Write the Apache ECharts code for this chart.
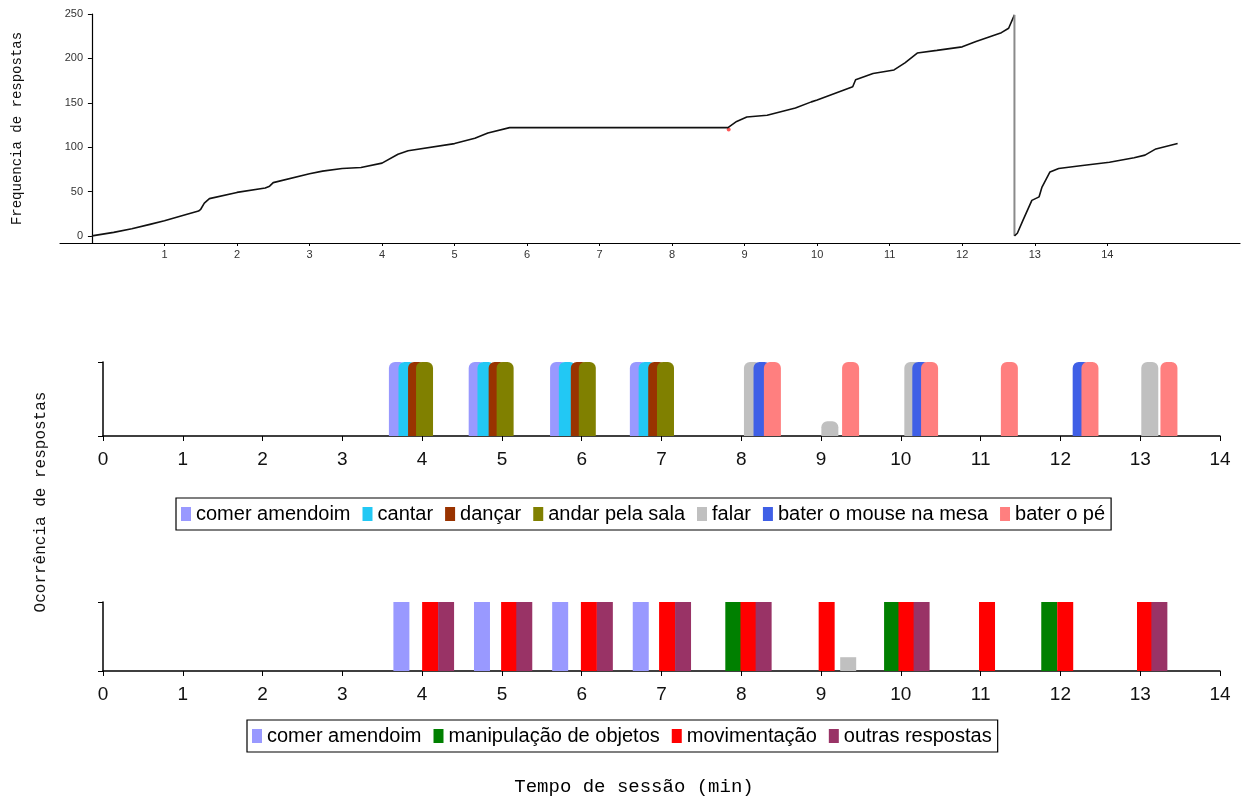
<!DOCTYPE html>
<html>
<head>
<meta charset="utf-8">
<script src="https://cdn.jsdelivr.net/npm/echarts@6/dist/echarts.min.js"></script>
<style>
  html, body { margin: 0; padding: 0; background: #fff; }
  #chart { width: 1242px; height: 803px; }
</style>
</head>
<body>
<div id="chart"></div>
<script>
// Cumulative responses, first part of the session: [minute, count]
const cumulativeFirst = [
  [0, 0], [0.3, 4], [0.55, 8], [0.8, 13], [1, 17], [1.3, 24], [1.47, 28], [1.5, 30],
  [1.55, 37], [1.62, 42], [2, 49], [2.39, 54], [2.45, 56], [2.5, 60], [3, 70],
  [3.18, 73], [3.45, 76], [3.71, 77], [4, 82], [4.22, 92], [4.36, 96], [5, 104],
  [5.28, 110], [5.46, 116], [5.76, 122], [8.77, 122], [8.89, 129], [9.03, 134],
  [9.31, 136], [9.7, 144], [9.92, 151], [10, 153], [10.49, 168], [10.53, 176],
  [10.77, 183], [11.06, 187], [11.21, 195], [11.38, 206], [11.65, 209], [12, 213],
  [12.19, 219], [12.54, 229], [12.64, 234], [12.72, 249]
];
// Cumulative responses after the counter restarts
const cumulativeSecond = [
  [12.72, 0], [12.76, 3], [12.84, 18], [12.96, 40], [13.06, 44], [13.1, 55],
  [13.21, 72], [13.33, 76], [13.63, 79], [14.03, 83], [14.37, 88], [14.52, 91],
  [14.67, 98], [14.97, 104]
];
// Single marked point where responding resumes
const resumeMark = [[8.78, 120]];

const freqTicksX = [1, 2, 3, 4, 5, 6, 7, 8, 9, 10, 11, 12, 13, 14];
const freqTicksY = [0, 50, 100, 150, 200, 250];

// Occurrence of responses, detailed categories: [minute, occurrence]
const detailNames = ['comer amendoim', 'cantar', 'dançar', 'andar pela sala', 'falar', 'bater o mouse na mesa', 'bater o pé'];
const comerAmendoim = [[3.69, 1], [4.69, 1], [5.71, 1], [6.71, 1]];
const cantar = [[3.81, 1], [4.80, 1], [5.82, 1], [6.82, 1]];
const dancar = [[3.93, 1], [4.94, 1], [5.97, 1], [6.94, 1]];
const andarPelaSala = [[4.03, 1], [5.04, 1], [6.07, 1], [7.05, 1]];
const falar = [[8.14, 1], [9.11, 0.2], [10.15, 1], [13.12, 1]];
const baterMouse = [[8.26, 1], [10.25, 1], [12.26, 1]];
const baterPe = [[8.39, 1], [9.37, 1], [10.36, 1], [11.36, 1], [12.37, 1], [13.36, 1]];

// Occurrence of responses, grouped categories: [minute, occurrence]
const groupNames = ['comer amendoim', 'manipulação de objetos', 'movimentação', 'outras respostas'];
const comerAmendoimG = [[3.74, 1], [4.75, 1], [5.73, 1], [6.74, 1]];
const manipulacao = [[7.90, 1], [9.89, 1], [11.86, 1]];
const movimentacao = [[4.10, 1], [5.09, 1], [6.09, 1], [7.07, 1], [8.09, 1], [9.07, 1], [10.07, 1], [11.08, 1], [12.06, 1], [13.06, 1]];
const outrasRespostas = [[4.30, 1], [5.28, 1], [6.29, 1], [7.27, 1], [8.28, 1], [10.26, 1], [13.24, 1]];
const falarG = [[9.34, 0.2]];

const COLORS = {
  'comer amendoim': '#9999ff',
  'cantar': '#22c8f4',
  'dançar': '#993300',
  'andar pela sala': '#808000',
  'falar': '#c0c0c0',
  'bater o mouse na mesa': '#3f5fe6',
  'bater o pé': '#ff7f7f',
  'manipulação de objetos': '#008000',
  'movimentação': '#ff0000',
  'outras respostas': '#993366'
};

const sans = "'Liberation Sans', Arial, sans-serif";
const mono = "'Liberation Mono', 'DejaVu Sans Mono', monospace";

function panelAxes(gridIndex) {
  return {
    x: {
      type: 'value', gridIndex, min: 0, max: 14, interval: 1,
      axisLine: { onZero: false, lineStyle: { color: '#000', width: 1.5 } },
      axisTick: { length: 5, lineStyle: { color: '#000' } },
      axisLabel: { fontFamily: sans, fontSize: 19, color: '#111', margin: 14 },
      splitLine: { show: false }
    },
    y: {
      type: 'value', gridIndex, min: 0, max: 1, interval: 1,
      axisLine: { show: true, lineStyle: { color: '#000', width: 1.5 } },
      axisTick: { show: true, length: 5, lineStyle: { color: '#000' } },
      axisLabel: { show: false },
      splitLine: { show: false }
    }
  };
}

function barSeries(name, data, axisIndex, rounded) {
  return {
    type: 'bar', name, data,
    xAxisIndex: axisIndex, yAxisIndex: axisIndex,
    barWidth: rounded ? 17 : 16, barGap: '-100%',
    itemStyle: { color: COLORS[name], borderRadius: rounded ? [6, 6, 0, 0] : 0 },
    emphasis: { disabled: true },
    animation: false
  };
}

function legendBox(names, left, top, gap) {
  return {
    data: names, left, top, orient: 'horizontal',
    borderColor: '#000', borderWidth: 1.2, padding: [6, 6, 6, 5],
    itemWidth: 10, itemHeight: 14, itemGap: gap, icon: 'rect', selectedMode: false,
    textStyle: { fontFamily: sans, fontSize: 20, color: '#000' }
  };
}

const mid = panelAxes(1);
const bot = panelAxes(2);

const option = {
  animation: false,
  backgroundColor: '#fff',
  grid: [
    { left: 60, right: 2, top: 14, bottom: 560, outerBoundsMode: 'none' },
    { left: 103, right: 22, top: 362, bottom: 367, outerBoundsMode: 'none' },
    { left: 103, right: 22, top: 602, bottom: 132, outerBoundsMode: 'none' }
  ],
  xAxis: [
    {
      type: 'value', gridIndex: 0, min: -0.44, max: 15.83,
      axisLine: { onZero: false, lineStyle: { color: '#000', width: 1.2 } },
      axisTick: { customValues: freqTicksX, length: 3, lineStyle: { color: '#000' } },
      axisLabel: { customValues: freqTicksX, fontFamily: sans, fontSize: 11, color: '#333', margin: 6 },
      splitLine: { show: false }
    },
    mid.x, bot.x
  ],
  yAxis: [
    {
      type: 'value', gridIndex: 0, min: -8, max: 250,
      name: 'Frequencia de respostas', nameLocation: 'middle', nameGap: 36, nameRotate: 90,
      nameTextStyle: { fontFamily: mono, fontSize: 14, color: '#111' },
      axisLine: { show: true, onZero: true, lineStyle: { color: '#000', width: 1.2 } },
      axisTick: { show: true, customValues: freqTicksY, length: 4, lineStyle: { color: '#000' } },
      axisLabel: { customValues: freqTicksY, fontFamily: sans, fontSize: 11, color: '#333', margin: -23 },
      splitLine: { show: false }
    },
    mid.y, bot.y
  ],
  legend: [
    legendBox(detailNames, 176, 498, 12),
    legendBox(groupNames, 247, 720, 12)
  ],
  graphic: [
    {
      type: 'text', x: 41, y: 502, rotation: Math.PI / 2,
      style: { text: 'Ocorrência de respostas', font: "16px 'Liberation Mono', monospace", fill: '#111', align: 'center', verticalAlign: 'middle', textAlign: 'center', textVerticalAlign: 'middle' }
    },
    {
      type: 'text', x: 634, y: 787,
      style: { text: 'Tempo de sessão (min)', font: "19px 'Liberation Mono', monospace", fill: '#000', align: 'center', verticalAlign: 'middle', textAlign: 'center', textVerticalAlign: 'middle' }
    }
  ],
  series: [
    {
      type: 'line', name: 'frequência', data: cumulativeFirst, xAxisIndex: 0, yAxisIndex: 0,
      showSymbol: false, lineStyle: { color: '#111', width: 1.6 }, silent: true
    },
    {
      type: 'line', name: 'reinício', xAxisIndex: 0, yAxisIndex: 0,
      data: [cumulativeFirst[cumulativeFirst.length - 1], cumulativeSecond[0]],
      showSymbol: false, lineStyle: { color: '#8a8a8a', width: 2 }, silent: true
    },
    {
      type: 'line', name: 'frequência 2', data: cumulativeSecond, xAxisIndex: 0, yAxisIndex: 0,
      showSymbol: false, lineStyle: { color: '#111', width: 1.6 }, silent: true
    },
    {
      type: 'scatter', name: 'retomada', data: resumeMark, xAxisIndex: 0, yAxisIndex: 0,
      symbolSize: 4, itemStyle: { color: '#ff3030' }, silent: true
    },
    barSeries('comer amendoim', comerAmendoim, 1, true),
    barSeries('cantar', cantar, 1, true),
    barSeries('dançar', dancar, 1, true),
    barSeries('andar pela sala', andarPelaSala, 1, true),
    barSeries('falar', falar, 1, true),
    barSeries('bater o mouse na mesa', baterMouse, 1, true),
    barSeries('bater o pé', baterPe, 1, true),
    barSeries('comer amendoim', comerAmendoimG, 2, false),
    barSeries('manipulação de objetos', manipulacao, 2, false),
    barSeries('movimentação', movimentacao, 2, false),
    barSeries('outras respostas', outrasRespostas, 2, false),
    barSeries('falar', falarG, 2, false)
  ]
};

const chart = echarts.init(document.getElementById('chart'), null, { renderer: 'canvas' });
chart.setOption(option);
</script>
</body>
</html>
